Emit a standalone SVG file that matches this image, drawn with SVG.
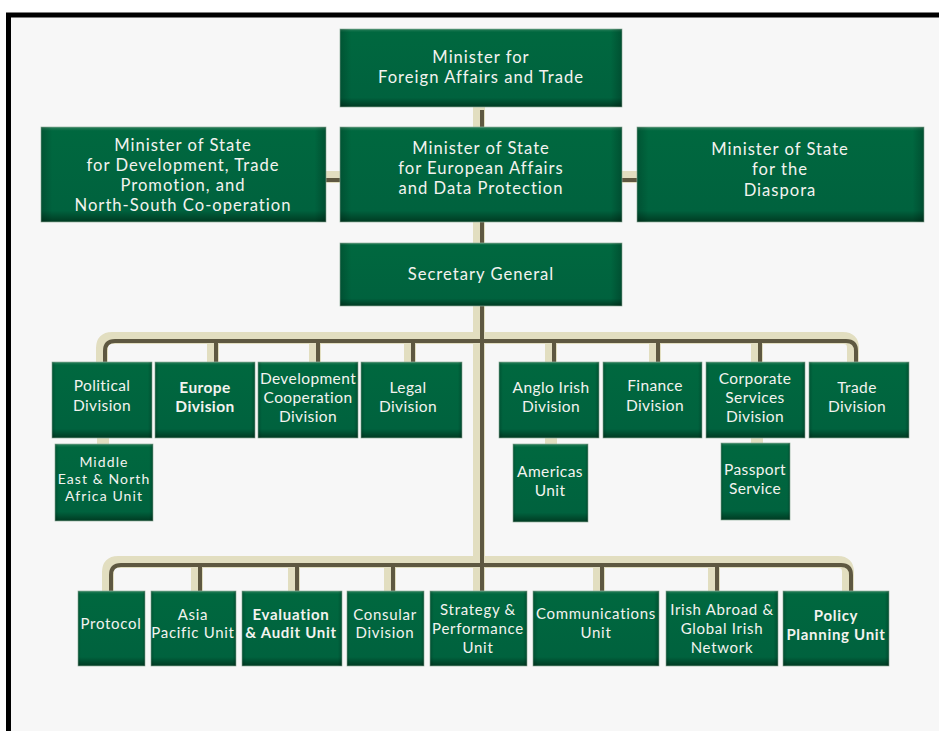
<svg xmlns="http://www.w3.org/2000/svg" width="939" height="731" viewBox="0 0 939 731">
<defs>
<linearGradient id="g" x1="0" y1="0" x2="0" y2="1">
<stop offset="0" stop-color="#2a7f5a"/>
<stop offset="0.04" stop-color="#00683f"/>
<stop offset="0.88" stop-color="#00623e"/>
<stop offset="1" stop-color="#003a22"/>
</linearGradient>
<linearGradient id="gs" x1="0" y1="0" x2="1" y2="0">
<stop offset="0" stop-color="#000" stop-opacity="0.18"/>
<stop offset="0.04" stop-color="#000" stop-opacity="0"/>
<stop offset="0.96" stop-color="#000" stop-opacity="0"/>
<stop offset="1" stop-color="#000" stop-opacity="0.22"/>
</linearGradient>
</defs>
<style>
.b{fill:url(#g);stroke:#8fb09c;stroke-width:0.7}
.s{fill:url(#gs)}
text{font-family:Lato,"Open Sans","Liberation Sans",sans-serif;fill:#f3f3ef;text-anchor:middle}
.t1{font-size:16.6px;letter-spacing:1px}
.t2{font-size:15.5px;letter-spacing:0.4px}
.t4{font-size:15px;letter-spacing:0.7px}
.t3{font-size:14px;letter-spacing:1.1px}
.bd{font-weight:bold}
.pl{fill:none;stroke:#e2dec0;stroke-width:12;stroke-linejoin:round}
.pd{fill:none;stroke:#5e5841;stroke-width:4;stroke-linejoin:round}
</style>
<rect x="0" y="0" width="939" height="731" fill="#ffffff"/>
<rect x="8.5" y="15" width="945" height="730" fill="#f7f7f7" stroke="#000" stroke-width="5"/>

<g id="connectors">
<g class="pl">
<path d="M479 107 V591"/>
<path d="M326 177 H340 M622 177 H637"/>
<path d="M102 362 V348 Q102 338 112 338 H843 Q853 338 853 348 V362 M213 338 V362 M315 338 V362 M410 338 V362 M551 338 V362 M655 338 V362 M757 338 V362"/>
<path d="M103 438 V444 M551 438 V444 M757 438 V443"/>
<path d="M108 591 V572 Q108 562 118 562 H838 Q848 562 848 572 V591 M197 562 V591 M294 562 V591 M390 562 V591 M599 562 V591 M714 562 V591"/>
</g>
<g class="pd" transform="translate(3,3)">
<path d="M479 107 V588"/>
<path d="M323 177 H337 M619 177 H634"/>
<path d="M102 359 V348 Q102 338 112 338 H843 Q853 338 853 348 V359 M213 338 V359 M315 338 V359 M410 338 V359 M551 338 V359 M655 338 V359 M757 338 V359"/>
<path d="M108 588 V572 Q108 562 118 562 H838 Q848 562 848 572 V588 M197 562 V588 M294 562 V588 M390 562 V588 M599 562 V588 M714 562 V588"/>
</g>
</g>

<g id="n-minister">
<rect class="b" x="340" y="29" width="282" height="78"/><rect class="s" x="340" y="29" width="282" height="78"/>
<text class="t1" x="481" y="63">Minister for</text>
<text class="t1" x="481" y="83">Foreign Affairs and Trade</text>
</g>
<g id="n-mos-dev">
<rect class="b" x="41" y="127" width="285" height="95"/><rect class="s" x="41" y="127" width="285" height="95"/>
<text class="t1" x="183" y="151">Minister of State</text>
<text class="t1" x="183" y="171">for Development, Trade</text>
<text class="t1" x="183" y="191">Promotion, and</text>
<text class="t1" x="183" y="211">North-South Co-operation</text>
</g>
<g id="n-mos-eu">
<rect class="b" x="340" y="127" width="282" height="95"/><rect class="s" x="340" y="127" width="282" height="95"/>
<text class="t1" x="481" y="154">Minister of State</text>
<text class="t1" x="481" y="174">for European Affairs</text>
<text class="t1" x="481" y="194">and Data Protection</text>
</g>
<g id="n-mos-diaspora">
<rect class="b" x="637" y="127" width="287" height="95"/><rect class="s" x="637" y="127" width="287" height="95"/>
<text class="t1" x="780" y="155">Minister of State</text>
<text class="t1" x="780" y="175">for the</text>
<text class="t1" x="780" y="196">Diaspora</text>
</g>
<g id="n-secgen">
<rect class="b" x="340" y="243" width="282" height="63"/><rect class="s" x="340" y="243" width="282" height="63"/>
<text class="t1" x="481" y="280">Secretary General</text>
</g>

<g id="n-political">
<rect class="b" x="52" y="362" width="100" height="76"/><rect class="s" x="52" y="362" width="100" height="76"/>
<text class="t2" x="102" y="391">Political</text>
<text class="t2" x="102" y="411">Division</text>
</g>
<g id="n-europe">
<rect class="b" x="155" y="362" width="100" height="76"/><rect class="s" x="155" y="362" width="100" height="76"/>
<text class="t2 bd" x="205" y="393">Europe</text>
<text class="t2 bd" x="205" y="412">Division</text>
</g>
<g id="n-development">
<rect class="b" x="258" y="362" width="100" height="76"/><rect class="s" x="258" y="362" width="100" height="76"/>
<text class="t2" x="308" y="384">Development</text>
<text class="t2" x="308" y="403">Cooperation</text>
<text class="t2" x="308" y="422">Division</text>
</g>
<g id="n-legal">
<rect class="b" x="361" y="362" width="101" height="76"/><rect class="s" x="361" y="362" width="101" height="76"/>
<text class="t2" x="408" y="393">Legal</text>
<text class="t2" x="408" y="412">Division</text>
</g>
<g id="n-anglo">
<rect class="b" x="499" y="362" width="100" height="76"/><rect class="s" x="499" y="362" width="100" height="76"/>
<text class="t2" x="551" y="393">Anglo Irish</text>
<text class="t2" x="551" y="412">Division</text>
</g>
<g id="n-finance">
<rect class="b" x="603" y="362" width="99" height="76"/><rect class="s" x="603" y="362" width="99" height="76"/>
<text class="t2" x="655" y="391">Finance</text>
<text class="t2" x="655" y="411">Division</text>
</g>
<g id="n-corporate">
<rect class="b" x="706" y="362" width="99" height="76"/><rect class="s" x="706" y="362" width="99" height="76"/>
<text class="t2" x="755" y="384">Corporate</text>
<text class="t2" x="755" y="403">Services</text>
<text class="t2" x="755" y="422">Division</text>
</g>
<g id="n-trade">
<rect class="b" x="809" y="362" width="100" height="76"/><rect class="s" x="809" y="362" width="100" height="76"/>
<text class="t2" x="857" y="393">Trade</text>
<text class="t2" x="857" y="412">Division</text>
</g>

<g id="n-mena">
<rect class="b" x="55" y="444" width="98" height="77"/><rect class="s" x="55" y="444" width="98" height="77"/>
<text class="t3" x="104" y="467">Middle</text>
<text class="t3" x="104" y="484">East &amp; North</text>
<text class="t3" x="104" y="501">Africa Unit</text>
</g>
<g id="n-americas">
<rect class="b" x="513" y="444" width="75" height="78"/><rect class="s" x="513" y="444" width="75" height="78"/>
<text class="t2" x="550" y="477">Americas</text>
<text class="t2" x="550" y="496">Unit</text>
</g>
<g id="n-passport">
<rect class="b" x="721" y="443" width="69" height="77"/><rect class="s" x="721" y="443" width="69" height="77"/>
<text class="t2" x="755" y="475">Passport</text>
<text class="t2" x="755" y="494">Service</text>
</g>

<g id="n-protocol">
<rect class="b" x="78" y="591" width="67" height="75"/><rect class="s" x="78" y="591" width="67" height="75"/>
<text class="t4" x="111" y="629">Protocol</text>
</g>
<g id="n-asia">
<rect class="b" x="151" y="591" width="85" height="75"/><rect class="s" x="151" y="591" width="85" height="75"/>
<text class="t4" x="193" y="620">Asia</text>
<text class="t4" x="193" y="638">Pacific Unit</text>
</g>
<g id="n-evaluation">
<rect class="b" x="242" y="591" width="100" height="75"/><rect class="s" x="242" y="591" width="100" height="75"/>
<text class="t4 bd" x="291" y="620">Evaluation</text>
<text class="t4 bd" x="291" y="638">&amp; Audit Unit</text>
</g>
<g id="n-consular">
<rect class="b" x="347" y="591" width="77" height="75"/><rect class="s" x="347" y="591" width="77" height="75"/>
<text class="t4" x="385" y="620">Consular</text>
<text class="t4" x="385" y="638">Division</text>
</g>
<g id="n-strategy">
<rect class="b" x="430" y="591" width="97" height="75"/><rect class="s" x="430" y="591" width="97" height="75"/>
<text class="t4" x="478" y="615">Strategy &amp;</text>
<text class="t4" x="478" y="634">Performance</text>
<text class="t4" x="478" y="653">Unit</text>
</g>
<g id="n-communications">
<rect class="b" x="533" y="591" width="126" height="75"/><rect class="s" x="533" y="591" width="126" height="75"/>
<text class="t4" x="596" y="619">Communications</text>
<text class="t4" x="596" y="638">Unit</text>
</g>
<g id="n-irishabroad">
<rect class="b" x="666" y="591" width="112" height="75"/><rect class="s" x="666" y="591" width="112" height="75"/>
<text class="t4" x="722" y="615">Irish Abroad &amp;</text>
<text class="t4" x="722" y="634">Global Irish</text>
<text class="t4" x="722" y="653">Network</text>
</g>
<g id="n-policy">
<rect class="b" x="783" y="591" width="106" height="75"/><rect class="s" x="783" y="591" width="106" height="75"/>
<text class="t4 bd" x="836" y="621">Policy</text>
<text class="t4 bd" x="836" y="640">Planning Unit</text>
</g>
</svg>
